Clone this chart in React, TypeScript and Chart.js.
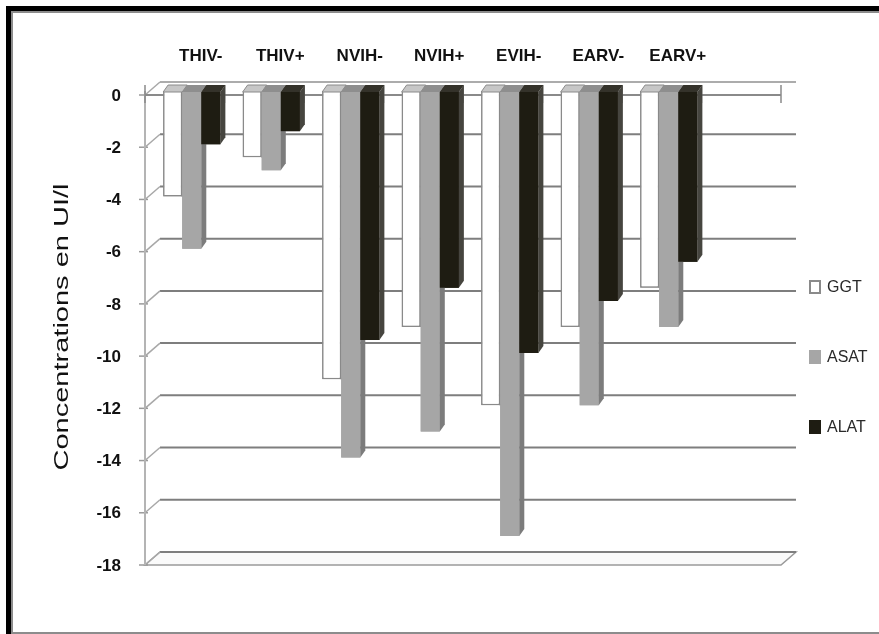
import React, { useEffect, useRef } from "react";
import { Chart, registerables } from "chart.js";

Chart.register(...registerables);

// ---------- data ----------
const categories = ["THIV-", "THIV+", "NVIH-", "NVIH+", "EVIH-", "EARV-", "EARV+", ""];
const ggtValues = [-4, -2.5, -11, -9, -12, -9, -7.5, null];
const asatValues = [-6, -3, -14, -13, -17, -12, -9, null];
const alatValues = [-2, -1.5, -9.5, -7.5, -10, -8, -6.5, null];
const seriesLabels = ["GGT", "ASAT", "ALAT"];
const yMin = -18;
const yMax = 0;
const yStep = 2;
const yTitle = "Concentrations en UI/l";

// ---------- styles ----------
const FRONT_FACE = ["#ffffff", "#a6a6a6", "#1e1c12"];
const SIDE_FACE = ["#d2d2d2", "#7c7c7c", "#46453f"];
const TOP_FACE = ["#c6c6c6", "#8e8e8e", "#34322a"];
const BORDER = ["#8a8a8a", "#a6a6a6", "#1e1c12"];
const LEGEND_BOX = ["#ffffff", "#a6a6a6", "#1e1c12"];

const BAR_DX = 5;
const BAR_DY = 7;
const BACK_DX = 8;
const BACK_DY = -10;
const FRONT_DX = -7;
const FRONT_DY = 3;

const FONT = "'Liberation Sans', Arial, sans-serif";

const threeD = {
  id: "threeD",
  beforeDraw(chart: any) {
    const ctx = chart.ctx;
    const W = chart.width;
    const H = chart.height;
    ctx.save();
    ctx.fillStyle = "#ffffff";
    ctx.fillRect(0, 0, W, H);
    ctx.fillStyle = "#000000";
    ctx.fillRect(6, 6, W - 6, 5);
    ctx.fillRect(6, 6, 5, H - 6);
    ctx.fillStyle = "#8c8c8c";
    ctx.fillRect(11, 11, W - 11, 2);
    ctx.fillRect(11, 11, 2, H - 11);
    ctx.fillRect(11, H - 2, W - 11, 2);
    ctx.restore();
  },
  beforeDatasetsDraw(chart: any) {
    const { ctx, chartArea, scales } = chart;
    const ys = scales.y;
    const xs = scales.x;
    const L = chartArea.left;
    const R = chartArea.right;
    ctx.save();
    // floor
    const yb = ys.getPixelForValue(yMin);
    ctx.beginPath();
    ctx.moveTo(L + BACK_DX, yb + BACK_DY);
    ctx.lineTo(R + BACK_DX, yb + BACK_DY);
    ctx.lineTo(R + FRONT_DX, yb + FRONT_DY);
    ctx.lineTo(L + FRONT_DX, yb + FRONT_DY);
    ctx.closePath();
    ctx.fillStyle = "#fafafa";
    ctx.fill();
    ctx.strokeStyle = "#9a9a9a";
    ctx.lineWidth = 1.5;
    ctx.stroke();

    // back wall gridlines, connectors and front ticks
    ys.ticks.forEach((t: any) => {
      const py = ys.getPixelForValue(t.value);
      ctx.strokeStyle = t.value === yMax ? "#acacac" : "#7e7e7e";
      ctx.lineWidth = 2;
      ctx.beginPath();
      ctx.moveTo(L + BACK_DX, py + BACK_DY);
      ctx.lineTo(R + BACK_DX, py + BACK_DY);
      ctx.stroke();

      ctx.strokeStyle = "#a8a8a8";
      ctx.lineWidth = 1.5;
      ctx.beginPath();
      ctx.moveTo(L + FRONT_DX, py + FRONT_DY);
      ctx.lineTo(L + BACK_DX, py + BACK_DY);
      ctx.stroke();

      ctx.strokeStyle = "#9a9a9a";
      ctx.beginPath();
      ctx.moveTo(L + FRONT_DX - 6, py + FRONT_DY);
      ctx.lineTo(L + FRONT_DX + 3, py + FRONT_DY);
      ctx.stroke();
    });

    // front vertical axis
    const yTop = ys.getPixelForValue(yMax);
    ctx.strokeStyle = "#b4b4b4";
    ctx.lineWidth = 2;
    ctx.beginPath();
    ctx.moveTo(L + FRONT_DX, yTop + FRONT_DY - 4);
    ctx.lineTo(L + FRONT_DX, yb + FRONT_DY);
    ctx.stroke();

    // front category axis at 0
    const y0 = ys.getPixelForValue(0) + FRONT_DY;
    ctx.strokeStyle = "#8a8a8a";
    ctx.lineWidth = 2;
    ctx.beginPath();
    ctx.moveTo(L + FRONT_DX, y0);
    ctx.lineTo(R + FRONT_DX, y0);
    ctx.stroke();
    const n = categories.length;
    const slot = (xs.right - xs.left) / n;
    ctx.lineWidth = 1.5;
    for (let k = 0; k <= n; k++) {
      const px = xs.left + k * slot + FRONT_DX;
      ctx.beginPath();
      ctx.moveTo(px, y0 - 10);
      ctx.lineTo(px, y0 + 8);
      ctx.stroke();
    }
    ctx.restore();
  },
  afterDatasetsDraw(chart: any) {
    // redraw the bars series by series (GGT, ASAT, ALAT) with their 3-D faces,
    // so each series sits in front of the previous one's side face
    const ctx = chart.ctx;
    ctx.save();
    chart.data.datasets.forEach((ds: any, i: number) => {
      const meta = chart.getDatasetMeta(i);
      meta.data.forEach((el: any, j: number) => {
        const v = ds.data[j];
        if (v === null || v === undefined) return;
        el.draw(ctx, chart.chartArea);
        const { x, y, base, width } = el.getProps(["x", "y", "base", "width"], true);
        const l = x - width / 2;
        const r = x + width / 2;
        // side face
        ctx.beginPath();
        ctx.moveTo(r, base);
        ctx.lineTo(r + BAR_DX, base - BAR_DY);
        ctx.lineTo(r + BAR_DX, y - BAR_DY);
        ctx.lineTo(r, y);
        ctx.closePath();
        ctx.fillStyle = SIDE_FACE[i];
        ctx.fill();
        if (i === 0) {
          ctx.strokeStyle = BORDER[0];
          ctx.lineWidth = 1;
          ctx.stroke();
        }
        // top face
        ctx.beginPath();
        ctx.moveTo(l, base);
        ctx.lineTo(l + BAR_DX, base - BAR_DY);
        ctx.lineTo(r + BAR_DX, base - BAR_DY);
        ctx.lineTo(r, base);
        ctx.closePath();
        ctx.fillStyle = TOP_FACE[i];
        ctx.fill();
        if (i === 0) {
          ctx.strokeStyle = BORDER[0];
          ctx.lineWidth = 1;
          ctx.stroke();
        }
      });
    });
    ctx.restore();
  },
  afterDraw(chart: any) {
    const { ctx, chartArea } = chart;
    ctx.save();
    // legend
    const cy = (chartArea.top + chartArea.bottom) / 2 + 30;
    chart.data.datasets.forEach((ds: any, i: number) => {
      const yy = cy + (i - 1) * 70;
      const bx = chartArea.right + 21;
      ctx.fillStyle = LEGEND_BOX[i];
      ctx.fillRect(bx, yy - 7, 12, 14);
      if (i === 0) {
        ctx.strokeStyle = "#8a8a8a";
        ctx.lineWidth = 2;
        ctx.strokeRect(bx + 1, yy - 6, 10, 12);
      }
      ctx.fillStyle = "#2a2a2a";
      ctx.font = `16px ${FONT}`;
      ctx.textAlign = "left";
      ctx.textBaseline = "middle";
      ctx.fillText(ds.label, chartArea.right + 39, yy + 1);
    });
    // y axis title (stretched along its length like the source)
    const tx = chartArea.left - 90;
    const ty = (chartArea.top + chartArea.bottom) / 2;
    ctx.translate(tx, ty);
    ctx.rotate(-Math.PI / 2);
    ctx.scale(1.45, 1);
    ctx.font = `20px ${FONT}`;
    ctx.fillStyle = "#111111";
    ctx.textAlign = "center";
    ctx.textBaseline = "middle";
    ctx.fillText(yTitle, 0, 0);
    ctx.restore();
  },
};

export default function App() {
  const ref = useRef<HTMLCanvasElement>(null);
  useEffect(() => {
    const values = [ggtValues, asatValues, alatValues];
    const chart = new Chart(ref.current as HTMLCanvasElement, {
      type: "bar",
      data: {
        labels: categories,
        datasets: seriesLabels.map((label, i) => ({
          label,
          data: values[i],
          backgroundColor: FRONT_FACE[i],
          borderColor: BORDER[i],
          borderWidth: i === 0 ? 1.5 : 0,
          categoryPercentage: 0.72,
          barPercentage: 1.0,
        })),
      },
      options: {
        responsive: false,
        animation: false,
        layout: { padding: { left: 0, top: 0, right: 91, bottom: 72 } },
        plugins: {
          legend: { display: false },
          tooltip: { enabled: false },
        },
        scales: {
          x: {
            position: "top",
            grid: { display: false },
            border: { display: false },
            ticks: {
              color: "#111111",
              font: { family: FONT, size: 17, weight: "bold" },
              padding: 17,
              labelOffset: 9,
              maxRotation: 0,
              autoSkip: false,
            },
            afterFit: (s: any) => {
              s.height = 92;
            },
          },
          y: {
            min: yMin,
            max: yMax,
            grid: { display: false },
            border: { display: false },
            ticks: {
              stepSize: yStep,
              color: "#111111",
              font: { family: FONT, size: 17, weight: "bold" },
              padding: 23,
              labelOffset: 4,
            },
            afterFit: (s: any) => {
              s.width = 152;
            },
          },
        },
      },
      plugins: [threeD],
    } as any);
    return () => chart.destroy();
  }, []);
  return (
    <div style={{ position: "fixed", left: 0, top: 0, width: 879, height: 634 }}>
      <canvas ref={ref} width={879} height={634} style={{ display: "block" }} />
    </div>
  );
}
